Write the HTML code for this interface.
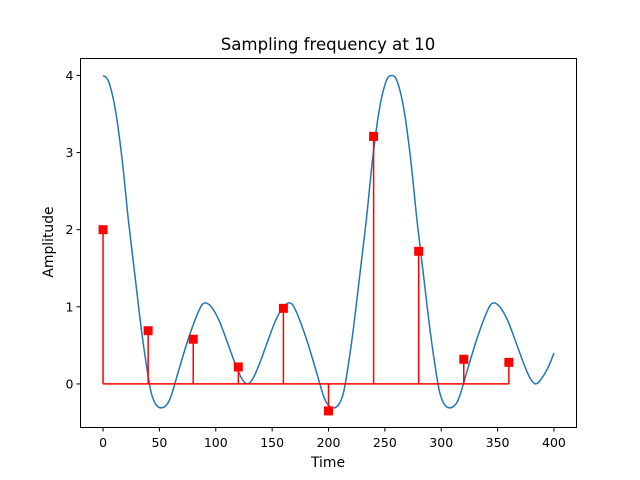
<!DOCTYPE html>
<html><head><meta charset="utf-8"><style>
body{margin:0;background:#fff;}
svg{display:block;font-family:"DejaVu Sans","Liberation Sans",sans-serif;}
</style></head><body>
<svg id="chart" width="640" height="480">
<rect width="640" height="480" fill="#fff"/>
<text x="328" y="50" font-size="16.6" text-anchor="middle">Sampling frequency at 10</text>
<text x="328" y="467" font-size="13.9" text-anchor="middle">Time</text>
<text transform="translate(53,242) rotate(-90)" font-size="13.9" text-anchor="middle">Amplitude</text>
<g id="ticks"></g>
<g id="plot"></g>
<rect x="80.5" y="58.5" width="496" height="369" fill="none" stroke="#000" stroke-width="1"/>
</svg>
<script>
const curveT = [0,5,11,17,22.5,28.5,34.5,40,43,47,52,57,61,67,76,85,90,96,103,110,117,123,128,133,139,146,153,160,166,171,180,189,195,199,204,209,213,216,221.5,227.5,233.5,239,245,251,256,261,267,273,278.5,284.5,290.5,296,299,303,308,313,317,323,332,341,346,352,359,366,373,379,384,389,395,400];
const curveV = [4.0,3.92,3.55,2.9,2.12,1.38,0.65,0.1,-0.13,-0.27,-0.31,-0.26,-0.13,0.17,0.6,0.95,1.05,1.0,0.82,0.55,0.27,0.07,0.0,0.07,0.27,0.55,0.82,1.0,1.05,0.95,0.6,0.17,-0.13,-0.26,-0.31,-0.27,-0.13,0.1,0.65,1.38,2.12,2.9,3.55,3.92,4.0,3.92,3.55,2.9,2.12,1.38,0.65,0.1,-0.13,-0.27,-0.31,-0.26,-0.13,0.17,0.6,0.95,1.05,1.0,0.82,0.55,0.27,0.07,0.0,0.07,0.22,0.4];
const sampleT = [0,40,80,120,160,200,240,280,320,360];
const sampleV = [2.0,0.69,0.58,0.22,0.98,-0.35,3.21,1.72,0.32,0.28];
const xTicks = [0,50,100,150,200,250,300,350,400];
const yTicks = [0,1,2,3,4];
const NS='http://www.w3.org/2000/svg';
const L=80.5,R=576.5,T=58.5,B=427.5, xmin=-20,xmax=420,ymin=-0.565,ymax=4.22;
function xs(v){return L+(v-xmin)/(xmax-xmin)*(R-L);}
function ys(v){return B-(v-ymin)/(ymax-ymin)*(B-T);}
const plot=document.getElementById('plot'), ticks=document.getElementById('ticks');
function mk(tag,attrs,parent){const e=document.createElementNS(NS,tag);for(const k in attrs)e.setAttribute(k,attrs[k]);parent.appendChild(e);return e;}
xTicks.forEach(v=>{
  const l=mk('line',{x1:xs(v),x2:xs(v),y1:B,y2:B+4,stroke:'#000'},ticks);
  
  
  const t=mk('text',{x:xs(v),y:B+19.5,'font-size':12.5,'text-anchor':'middle'},ticks);t.textContent=v;
  
  
});
yTicks.forEach(v=>{
  const l=mk('line',{x1:L-4,x2:L,y1:ys(v),y2:ys(v),stroke:'#000'},ticks);
  
  
  const t=mk('text',{x:L-7,y:ys(v)+4.5,'font-size':12.5,'text-anchor':'end'},ticks);t.textContent=v;
  
  
});
const P=curveT.map((t,i)=>[xs(t),ys(curveV[i])]);
let d='M'+P[0][0]+','+P[0][1];
for(let i=0;i<P.length-1;i++){
  const p0=P[Math.max(0,i-1)],p1=P[i],p2=P[i+1],p3=P[Math.min(P.length-1,i+2)];
  const c1=[p1[0]+(p2[0]-p0[0])/6,p1[1]+(p2[1]-p0[1])/6];
  const c2=[p2[0]-(p3[0]-p1[0])/6,p2[1]-(p3[1]-p1[1])/6];
  d+=`C${c1[0]},${c1[1]} ${c2[0]},${c2[1]} ${p2[0]},${p2[1]}`;
}
const cp=mk('path',{d:d,fill:'none',stroke:'#1f77b4','stroke-width':1.5},plot);


sampleT.forEach((t,i)=>{
  const s=mk('line',{x1:xs(t),x2:xs(t),y1:ys(0),y2:ys(sampleV[i]),stroke:'red','stroke-width':1.5},plot);
  
  
});
const bl=mk('line',{x1:xs(sampleT[0]),x2:xs(sampleT[sampleT.length-1]),y1:ys(0),y2:ys(0),stroke:'red','stroke-width':1.5},plot);


sampleT.forEach((t,i)=>{
  const m=mk('rect',{x:xs(t)-4.5,y:ys(sampleV[i])-4.5,width:9,height:9,fill:'red'},plot);
  
  
});
</script>
</body></html>
